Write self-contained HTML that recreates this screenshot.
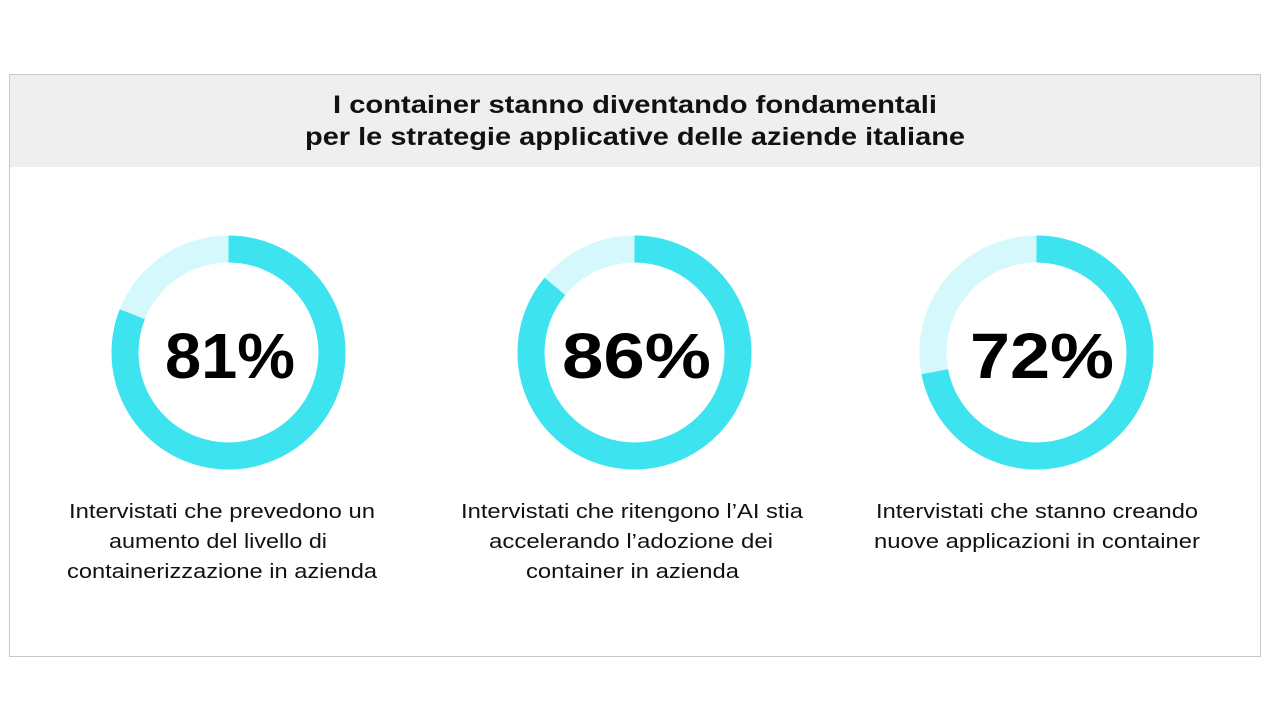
<!DOCTYPE html>
<html><head><meta charset="utf-8"><style>
body{margin:0;width:1280px;height:720px;background:#fff;font-family:"Liberation Sans",sans-serif;overflow:hidden}
</style></head><body>
<svg width="1280" height="720" xmlns="http://www.w3.org/2000/svg" style="position:absolute;left:0;top:0">
<rect x="9.5" y="74.5" width="1251" height="582" fill="#fff" stroke="#c8c8c8" stroke-width="1"/>
<rect x="10" y="75" width="1250" height="92" fill="#efefef"/>
<g font-family="Liberation Sans, sans-serif" font-weight="bold" font-size="25" fill="#111">
<text x="333" y="113" textLength="604" lengthAdjust="spacingAndGlyphs">I container stanno diventando fondamentali</text>
<text x="305" y="145" textLength="660" lengthAdjust="spacingAndGlyphs">per le strategie applicative delle aziende italiane</text>
</g>
<g fill="none" stroke-width="27">
<circle cx="228.5" cy="352.5" r="103.5" stroke="#d4f8fb"/>
<circle cx="228.5" cy="352.5" r="103.5" stroke="#3de3ef" stroke-dasharray="526.7 650.3" transform="rotate(-90 228.5 352.5)"/>
<circle cx="634.5" cy="352.5" r="103.5" stroke="#d4f8fb"/>
<circle cx="634.5" cy="352.5" r="103.5" stroke="#3de3ef" stroke-dasharray="559.3 650.3" transform="rotate(-90 634.5 352.5)"/>
<circle cx="1036.5" cy="352.5" r="103.5" stroke="#d4f8fb"/>
<circle cx="1036.5" cy="352.5" r="103.5" stroke="#3de3ef" stroke-dasharray="468.2 650.3" transform="rotate(-90 1036.5 352.5)"/>
</g>
<g font-family="Liberation Sans, sans-serif" font-weight="bold" font-size="64" fill="#000">
<text x="165" y="378" textLength="130" lengthAdjust="spacingAndGlyphs">81%</text>
<text x="562" y="378" textLength="149" lengthAdjust="spacingAndGlyphs">86%</text>
<text x="970" y="378" textLength="144" lengthAdjust="spacingAndGlyphs">72%</text>
</g>
<g font-family="Liberation Sans, sans-serif" font-size="20" fill="#111">
<text x="69" y="518" textLength="306" lengthAdjust="spacingAndGlyphs">Intervistati che prevedono un</text>
<text x="109" y="548" textLength="218" lengthAdjust="spacingAndGlyphs">aumento del livello di</text>
<text x="67" y="578" textLength="310" lengthAdjust="spacingAndGlyphs">containerizzazione in azienda</text>
<text x="461" y="518" textLength="342" lengthAdjust="spacingAndGlyphs">Intervistati che ritengono l’AI stia</text>
<text x="489" y="548" textLength="284" lengthAdjust="spacingAndGlyphs">accelerando l’adozione dei</text>
<text x="526" y="578" textLength="213" lengthAdjust="spacingAndGlyphs">container in azienda</text>
<text x="876" y="518" textLength="322" lengthAdjust="spacingAndGlyphs">Intervistati che stanno creando</text>
<text x="874" y="548" textLength="326" lengthAdjust="spacingAndGlyphs">nuove applicazioni in container</text>
</g>
</svg>
</body></html>
